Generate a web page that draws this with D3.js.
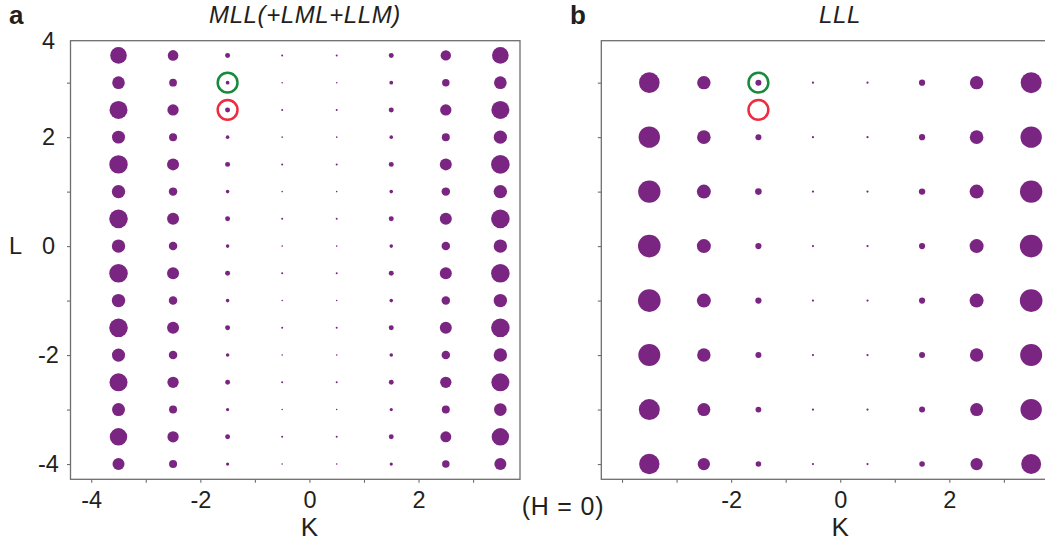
<!DOCTYPE html>
<html><head><meta charset="utf-8">
<script src="https://cdn.jsdelivr.net/npm/d3@7"></script>
<style>
body{margin:0;background:#fff}
svg{display:block}
text{font-family:"Liberation Sans",Arial,Helvetica,sans-serif;fill:#231f20}
</style>
</head><body><svg id="chart" width="1045" height="544"></svg>
<script>
// ---- data ----
const K = [-3.5, -2.5, -1.5, -0.5, 0.5, 1.5, 2.5, 3.5];
const L_a = [3.5, 3, 2.5, 2, 1.5, 1, 0.5, 0, -0.5, -1, -1.5, -2, -2.5, -3, -3.5, -4];
// intensity (arbitrary units), rows follow L_a, columns follow K
const I_a = [
  [69, 28, 6.2, 1, 1, 6.2, 27, 69],
  [40, 15, 3.6, 0.6, 0.6, 3.6, 14, 40],
  [81, 32, 6.2, 1, 1, 6.2, 32, 81],
  [42, 16, 3.2, 0.6, 0.6, 3.2, 16, 44],
  [85, 36, 6.2, 1, 1, 6.2, 36, 86],
  [45, 18, 3.2, 0.6, 0.6, 3.2, 18, 45],
  [86, 36, 6.2, 1, 1, 6.2, 36, 86],
  [45, 18, 3.2, 0.6, 0.6, 3.2, 18, 45],
  [86, 36, 6.2, 1, 1, 6.2, 36, 86],
  [45, 18, 3.2, 0.6, 0.6, 3.2, 18, 45],
  [86, 36, 6.2, 1, 1, 6.2, 36, 86],
  [43, 18, 3.2, 0.6, 0.6, 3.2, 18, 45],
  [81, 32, 6, 1, 1, 6, 32, 81],
  [42, 16, 2.6, 0.6, 0.6, 2.6, 16, 40],
  [76, 32, 6, 1, 1, 6, 30, 76],
  [36, 16, 2.6, 0.6, 0.6, 2.6, 14, 36]
];
const L_b = [3, 2, 1, 0, -1, -2, -3, -4];
const I_b = [
  [106, 45, 9, 1.2, 1.2, 9.6, 45, 110],
  [114, 46, 9, 1.2, 1.2, 9.6, 46, 114],
  [125, 49, 10.9, 1.2, 1.2, 10.2, 49, 125],
  [128, 49, 9.6, 1.2, 1.2, 9.6, 49, 128],
  [128, 49, 9.6, 1.2, 1.2, 9.6, 49, 128],
  [121, 45, 9, 1.2, 1.2, 9, 45, 121],
  [110, 42, 8.4, 1.2, 1.2, 9, 42, 114],
  [104, 38, 7.8, 1.2, 1.2, 7.8, 38, 100]
];
const markerK = [-1.5, -1.5];
const markerL = [3, 2.5];
const markerKind = ["allowed", "forbidden"];
const xTicks = [-4, -3, -2, -1, 0, 1, 2, 3];
const xLabels_a = [-4, -2, 0, 2];
const xLabels_b = [-2, 0, 2];
const yTicks = [-4, -3, -2, -1, 0, 1, 2, 3];
const yLabels_a = [-4, -2, 0, 2];
const yTopLabel = "4";
const titles = ["MLL(+LML+LLM)", "LLL"];
const panelLetters = ["a", "b"];

// ---- drawing ----
const svg = d3.select("#chart");
const kDomain = [-4.38, 3.86];
const lDomain = [-4.28, 3.77];
const y = d3.scaleLinear().domain(lDomain).range([479.3, 40.7]);
const r = d3.scaleSqrt().domain([0, 100]).range([0, 10]);
const markerColor = d3.scaleOrdinal().domain(["allowed", "forbidden"]).range(["#178a3c", "#ee2b40"]);
const purple = "#7b2582";
const frameColor = "#6d6e71";
const FONT = '"Liberation Sans",Arial,sans-serif';

function panel(x0, Ls, I, xLabels, yLabels, idx, titleX) {
  const x = d3.scaleLinear().domain(kDomain).range([x0, x0 + 449.5]);
  const g = svg.append("g");
  g.append("rect")
    .attr("x", x.range()[0]).attr("y", y.range()[1])
    .attr("width", x.range()[1] - x.range()[0])
    .attr("height", y.range()[0] - y.range()[1])
    .attr("fill", "none").attr("stroke", frameColor).attr("stroke-width", 1.3);
  const xa = g.append("g").attr("transform", `translate(0,${y.range()[0]})`)
    .call(d3.axisBottom(x).tickValues(xTicks).tickSize(3.5).tickPadding(8.5)
      .tickFormat(d => xLabels.includes(d) ? String(d) : ""));
  xa.select(".domain").remove();
  xa.selectAll(".tick line").attr("stroke", frameColor).attr("stroke-width", 1.1);
  xa.selectAll(".tick text").style("font-size", "23.5px").attr("fill", "#231f20")
    .style("font-family", FONT);
  const ya = g.append("g").attr("transform", `translate(${x.range()[0]},0)`)
    .call(d3.axisLeft(y).tickValues(yTicks).tickSize(3.5)
      .tickFormat(d => yLabels.includes(d) ? String(d) : ""));
  ya.select(".domain").remove();
  ya.selectAll(".tick line").attr("stroke", frameColor).attr("stroke-width", 1.1);
  ya.selectAll(".tick text").style("font-size", "23.5px").attr("fill", "#231f20")
    .attr("text-anchor", "middle").attr("x", 48.5 - x.range()[0]).attr("dy", "0.32em")
    .style("font-family", FONT);
  const pts = [];
  Ls.forEach((l, i) => K.forEach((k, j) => pts.push({k, l, v: I[i][j]})));
  g.append("g").selectAll("circle").data(pts).join("circle")
    .attr("cx", d => x(d.k)).attr("cy", d => y(d.l)).attr("r", d => r(d.v))
    .attr("fill", purple);
  g.append("g").selectAll("circle").data(markerK.map((k, i) => ({k, l: markerL[i], kind: markerKind[i]})))
    .join("circle")
    .attr("cx", d => x(d.k)).attr("cy", d => y(d.l)).attr("r", 9.9)
    .attr("fill", "none").attr("stroke", d => markerColor(d.kind)).attr("stroke-width", 2.5);
  svg.append("text").attr("x", titleX).attr("y", 22.5).attr("text-anchor", "middle")
    .style("font-size", "24px").style("font-style", "italic").style("letter-spacing", "0.6px")
    .text(titles[idx]);
  svg.append("text").attr("x", x(0)).attr("y", 536).attr("text-anchor", "middle")
    .style("font-size", "26px").text("K");
  return x;
}

panel(70.5, L_a, I_a, xLabels_a, yLabels_a, 0, 305);
panel(601.3, L_b, I_b, xLabels_b, [], 1, 840);

svg.append("text").attr("x", 48.5).attr("y", 41).attr("dy", "0.32em").attr("text-anchor", "middle")
  .style("font-size", "23.5px").text(yTopLabel);
svg.append("text").attr("x", 9).attr("y", y(0)).attr("dy", "0.32em")
  .style("font-size", "23.5px").text("L");
svg.append("text").attr("x", 9).attr("y", 23.5).style("font-size", "26px").style("font-weight", "bold").text(panelLetters[0]);
svg.append("text").attr("x", 570).attr("y", 23.5).style("font-size", "26px").style("font-weight", "bold").text(panelLetters[1]);
svg.append("text").attr("x", 563).attr("y", 515).attr("text-anchor", "middle")
  .style("font-size", "25px").style("letter-spacing", "0.8px").text("(H = 0)");
</script>
</body></html>
